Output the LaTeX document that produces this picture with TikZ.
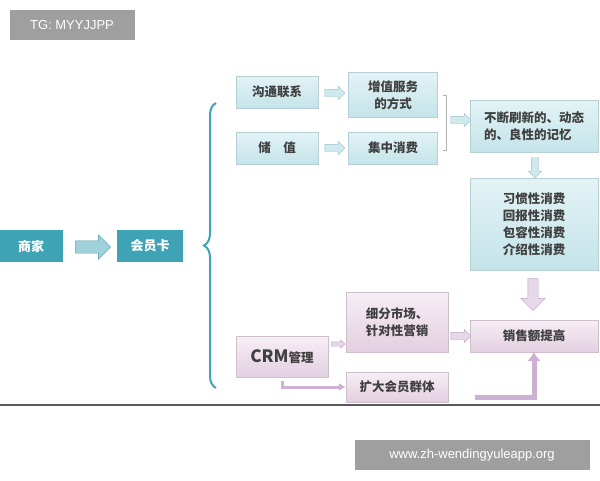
\documentclass[tikz,border=0pt]{standalone}
\usepackage{fontspec}
\setmainfont{Noto Sans CJK SC}
\setsansfont{Liberation Sans}
\usetikzlibrary{shapes.arrows,decorations.pathreplacing,arrows.meta}
\definecolor{tealdark}{HTML}{3FA3B6}
\definecolor{teallight}{HTML}{E3F3F5}
\definecolor{tealmid}{HTML}{C4E4EA}
\definecolor{pinklight}{HTML}{F6EEF5}
\definecolor{pinkmid}{HTML}{E3CFE0}
\definecolor{arrowpink}{HTML}{CDB0D3}
\definecolor{arrowteal}{HTML}{9FD3DD}
\tikzset{
  darkbox/.style={fill=tealdark, text=white, minimum height=32pt, font=\fontsize{13}{15}\selectfont\bfseries},
  tealbox/.style={top color=teallight, bottom color=tealmid, draw=tealmid!80!gray, text=black!75, align=center, font=\fontsize{12.5}{17}\selectfont\bfseries},
  pinkbox/.style={top color=pinklight, bottom color=pinkmid, draw=pinkmid!80!gray, text=black!75, align=center, font=\fontsize{12.5}{17}\selectfont\bfseries},
  fatarrow/.style={single arrow, draw=#1!80!gray, fill=#1!50, minimum height=20pt, inner xsep=0pt, inner ysep=3.5pt, single arrow head extend=3pt},
  tagbox/.style={fill=gray!75, text=white, font=\fontsize{13}{15}\selectfont\sffamily}
}
\begin{document}
\begin{tikzpicture}[x=1pt,y=-1pt]
\useasboundingbox (0,0) rectangle (600,480);
\node[tagbox, minimum width=125pt, minimum height=30pt] (tg) at (72,25) {TG: MYYJJPP};
\node[tagbox, minimum width=235pt, minimum height=30pt] (web) at (472,455) {www.zh-wendingyuleapp.org};
\draw[gray!70!black, line width=1.2pt] (0,405) -- (600,405);

% left part
\node[darkbox, minimum width=63pt] (shop) at (31,246) {商家};
\node[darkbox, minimum width=66pt] (card) at (150,246) {会员卡};
\node[fatarrow=tealdark, minimum height=35pt, inner ysep=6pt, single arrow head extend=6pt] (a0) at (90,247) {};
\draw[tealdark, line width=2pt, decorate, decoration={brace, amplitude=12pt, mirror}] (216,103) -- (216,388);

% upper branch
\node[tealbox, minimum width=82pt, minimum height=32pt] (talk) at (277,92) {沟通联系};
\node[tealbox, minimum width=89pt, minimum height=45pt] (service) at (393,95) {增值服务\\的方式};
\node[tealbox, minimum width=82pt, minimum height=32pt] (store) at (277,148) {储\quad 值};
\node[tealbox, minimum width=89pt, minimum height=32pt] (focus) at (393,148) {集中消费};
\node[fatarrow=arrowteal] (a1) at (333,93) {};
\node[fatarrow=arrowteal] (a2) at (333,148) {};
\draw[gray!60] (443,95) -- (446,95) -- (446,150) -- (443,150);
\node[tealbox, minimum width=128pt, minimum height=52pt, align=left] (memory) at (534,126) {不断刷新的、动态\\的、良性的记忆};
\node[fatarrow=arrowteal] (a3) at (459,120) {};
\node[tealbox, minimum width=128pt, minimum height=92pt] (habit) at (534,224) {习惯性消费\\回报性消费\\包容性消费\\介绍性消费};
\node[fatarrow=arrowteal, rotate=-90] (a4) at (535,166) {};

% lower branch
\node[pinkbox, minimum width=92pt, minimum height=41pt] (crm) at (282,357) {\fontsize{17}{17}\selectfont CRM\fontsize{12.5}{13}\selectfont 管理};
\node[pinkbox, minimum width=102pt, minimum height=60pt, align=left] (market) at (397,322) {细分市场、\\针对性营销};
\node[pinkbox, minimum width=102pt, minimum height=30pt] (grow) at (397,387) {扩大会员群体};
\node[pinkbox, minimum width=128pt, minimum height=32pt] (sales) at (534,336) {销售额提高};
\node[fatarrow=arrowpink, rotate=-90, minimum height=32pt, inner ysep=5pt, single arrow head extend=7pt] (a5) at (533,292) {};
\node[fatarrow=arrowpink, minimum height=14pt, inner ysep=2pt, single arrow head extend=2pt] (a6) at (337,344) {};
\node[fatarrow=arrowpink] (a7) at (459,336) {};
\draw[arrowpink, line width=3pt, -{Latex[length=7pt,width=8pt]}] (crm.south) ++(0,3) |- (grow.west);
\draw[arrowpink, line width=5pt, -{Latex[length=9pt,width=14pt]}] (475,397) -| (sales.south);
\end{tikzpicture}
\end{document}
